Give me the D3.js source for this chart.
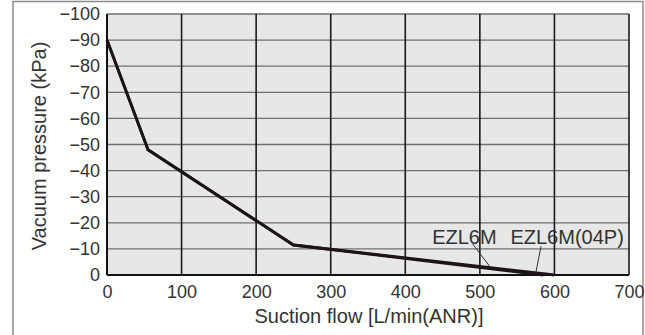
<!DOCTYPE html>
<html><head><meta charset="utf-8">
<script src="https://cdn.jsdelivr.net/npm/d3@7"></script>
<style>body{margin:0;background:#fff}svg{display:block}text{font-family:"Liberation Sans",Arial,sans-serif;fill:#333}</style>
</head><body>
<svg id="c" width="645" height="335"></svg>
<script>
const xTicks = [0,100,200,300,400,500,600,700];
const yTicks = [0,-10,-20,-30,-40,-50,-60,-70,-80,-90,-100];
const seriesNames = ["EZL6M","EZL6M(04P)"];
const flowA = [0,55,250,585];
const pressA = [-90,-48,-11.5,0];
const flowB = [0,55,250,600];
const pressB = [-90,-48,-11.5,0];
const xTitle = "Suction flow [L/min(ANR)]";
const yTitle = "Vacuum pressure (kPa)";

const svg = d3.select("#c");
const m = {l:107, t:14, r:629, b:275};
const x = d3.scaleLinear().domain([0,700]).range([m.l,m.r]);
const y = d3.scaleLinear().domain([0,-100]).range([m.b,m.t]);

// outer frame
svg.append("path").attr("d","M13,335 V1.5 H643 V335").attr("fill","none").attr("stroke","#8a8a8a").attr("stroke-width",1.5);

svg.append("rect").attr("x",m.l).attr("y",m.t).attr("width",m.r-m.l).attr("height",m.b-m.t).attr("fill","#e6e7e6");

// horizontal grid
svg.append("g").selectAll("line").data(yTicks.filter(d=>d!==0)).join("line")
  .attr("x1",m.l).attr("x2",m.r).attr("y1",d=>y(d)).attr("y2",d=>y(d))
  .attr("stroke","#6f6f6f").attr("stroke-width",1.3);
// vertical grid
svg.append("g").selectAll("line").data(xTicks.filter(d=>d!==0)).join("line")
  .attr("y1",m.t).attr("y2",m.b).attr("x1",d=>x(d)).attr("x2",d=>x(d))
  .attr("stroke","#1a1a1a").attr("stroke-width",1.6);

// axes
const xa = svg.append("g").attr("transform",`translate(0,${m.b})`)
  .call(d3.axisBottom(x).tickValues(xTicks).tickSize(0).tickPadding(10));
const ya = svg.append("g").attr("transform",`translate(${m.l},0)`)
  .call(d3.axisLeft(y).tickValues(yTicks).tickSize(0).tickPadding(7).tickFormat(d=>d<0?"\u2212"+Math.abs(d):d));
[xa,ya].forEach(g=>{g.select(".domain").remove();g.selectAll("text").attr("font-size",18).attr("fill","#333").attr("font-family","Liberation Sans, Arial, sans-serif");});
svg.append("line").attr("x1",m.l).attr("x2",m.r).attr("y1",m.b).attr("y2",m.b).attr("stroke","#111").attr("stroke-width",2);
svg.append("line").attr("x1",m.l).attr("x2",m.l).attr("y1",m.t).attr("y2",m.b).attr("stroke","#111").attr("stroke-width",2);

// curves
const line = d3.line().x(d=>x(d[0])).y(d=>y(d[1]));
svg.append("path").datum(flowB.map((f,i)=>[f,pressB[i]])).attr("d",line).attr("fill","none").attr("stroke","#1d1414").attr("stroke-width",2.8).attr("stroke-linejoin","round");
svg.append("path").datum(flowA.map((f,i)=>[f,pressA[i]])).attr("d",line).attr("fill","none").attr("stroke","#1d1414").attr("stroke-width",2.8).attr("stroke-linejoin","round");

// labels
svg.append("text").attr("x",x(436)).attr("y",244).attr("font-size",20).attr("fill","#333").text(seriesNames[0]);
svg.append("text").attr("x",x(541)).attr("y",244).attr("font-size",20).attr("fill","#333").text(seriesNames[1]);
svg.append("line").attr("x1",x(490)).attr("y1",y(-12)).attr("x2",x(514)).attr("y2",y(-3)).attr("stroke","#333").attr("stroke-width",1);
svg.append("line").attr("x1",x(582)).attr("y1",y(-11)).attr("x2",x(575)).attr("y2",y(-0.8)).attr("stroke","#333").attr("stroke-width",1);

svg.append("text").attr("x",369).attr("y",323).attr("text-anchor","middle").attr("font-size",20).attr("fill","#333").text(xTitle);
svg.append("text").attr("transform",`translate(46,146) rotate(-90)`).attr("text-anchor","middle").attr("font-size",20).attr("fill","#333").text(yTitle);
</script>
</body></html>
